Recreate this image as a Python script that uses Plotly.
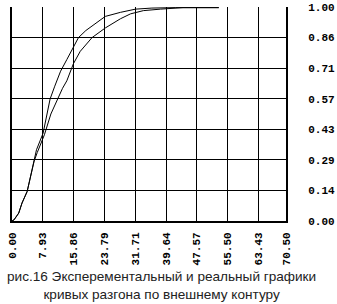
import plotly.graph_objects as go

# Curve 1 (faster, "реальный")
x_fast = [0, 0.5, 1.73, 2.58, 3.9, 5.6, 6.3, 8.0, 9.0, 9.8, 11.0, 12.5, 14.1, 15.5, 17.1,
          19.0, 21.0, 24.0, 27.9, 31.8, 36.0, 42.0, 53.2]
y_fast = [0, 0.005, 0.037, 0.084, 0.138, 0.286, 0.333, 0.41, 0.50, 0.570, 0.63, 0.70, 0.754,
          0.80, 0.857, 0.89, 0.917, 0.956, 0.975, 0.99, 0.995, 0.997, 0.997]

# Curve 2 (slower, "экспериментальный")
x_slow = [0, 0.5, 1.73, 2.58, 3.9, 5.7, 6.5, 8.34, 10.0, 11.54, 13.0, 14.1, 15.8, 17.56,
          20.6, 24.0, 27.9, 30.5, 33.8, 38.2, 44.0, 53.2]
y_slow = [0, 0.005, 0.037, 0.084, 0.138, 0.28, 0.32, 0.403, 0.50, 0.565, 0.62, 0.655, 0.735,
          0.793, 0.857, 0.902, 0.945, 0.968, 0.983, 0.99, 0.997, 0.997]

x_tick_vals = [0, 7.93, 15.86, 23.79, 31.71, 39.64, 47.57, 55.50, 63.43, 70.50]
x_tick_text = ["0.00", "7.93", "15.86", "23.79", "31.71", "39.64", "47.57", "55.50", "63.43", "70.50"]
y_tick_text = ["0.00", "0.14", "0.29", "0.43", "0.57", "0.71", "0.86", "1.00"]
y_tick_vals = [i / (len(y_tick_text) - 1) for i in range(len(y_tick_text))]

caption = "рис.16 Эксперементальный и реальный графики<br>кривых разгона по внешнему контуру"

fig = go.Figure()
for xs, ys in [(x_fast, y_fast), (x_slow, y_slow)]:
    fig.add_trace(go.Scatter(x=xs, y=ys, mode="lines",
                             line=dict(color="black", width=1), showlegend=False,
                             hoverinfo="skip"))

tick_font = dict(family="Liberation Mono", size=11, color="black", weight="bold")

fig.update_layout(
    template="none",
    width=337, height=304,
    margin=dict(l=12, r=51, t=7, b=83, pad=0),
    paper_bgcolor="white", plot_bgcolor="white",
    xaxis=dict(range=[0, 70.5], tickmode="array", tickvals=x_tick_vals, ticktext=x_tick_text,
               tickangle=-90, tickfont=tick_font, showgrid=True, gridcolor="#000000",
               gridwidth=1, griddash="solid", showline=True, linecolor="#000000", linewidth=2,
               zeroline=False, ticks="", ticklabelstandoff=5, fixedrange=True),
    yaxis=dict(range=[0, 1], tickmode="array", tickvals=y_tick_vals, ticktext=y_tick_text,
               side="right", tickfont=tick_font, showgrid=True, gridcolor="#000000",
               gridwidth=1, griddash="solid",
               showline=True, linecolor="#000000", linewidth=2, mirror=True,
               zeroline=False, ticks="", ticklabelstandoff=18, fixedrange=True),
    annotations=[dict(text=caption, xref="paper", yref="paper", x=0.544, y=-0.215,
                      xanchor="center", yanchor="top", showarrow=False, align="center",
                      font=dict(family="Liberation Sans", size=13.6, color="#222222"))],
)

fig.write_html("out.html")
